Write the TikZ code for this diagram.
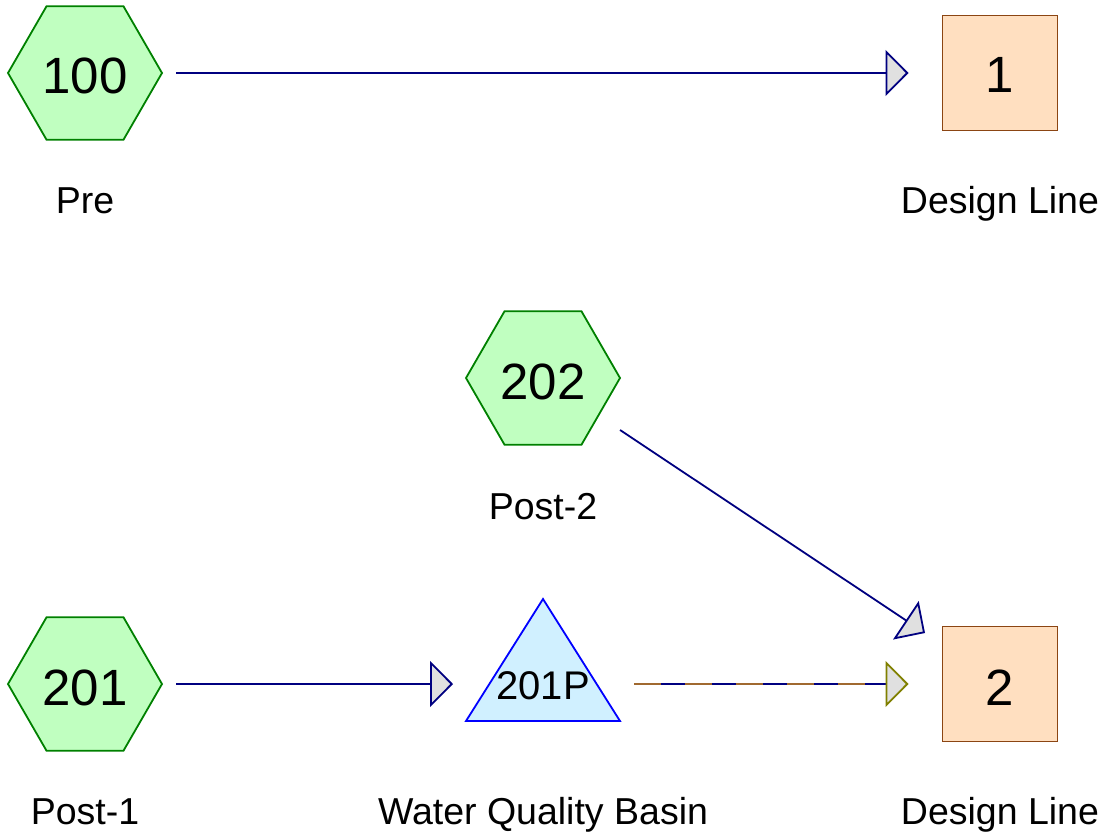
\documentclass[tikz,border=0pt]{standalone}
\usepackage{fontspec}
\setmainfont{Liberation Sans}
\usetikzlibrary{shapes.geometric,arrows.meta,calc}
\definecolor{hexfill}{RGB}{192,255,192}
\definecolor{hexline}{RGB}{0,128,0}
\definecolor{boxfill}{RGB}{255,223,192}
\definecolor{boxline}{RGB}{139,69,19}
\definecolor{pondfill}{RGB}{208,240,255}
\definecolor{pondline}{RGB}{0,0,255}
\definecolor{reach}{RGB}{0,0,128}
\definecolor{routed}{RGB}{160,105,48}
\definecolor{tipolive}{RGB}{128,128,0}
\definecolor{tipfill}{RGB}{224,224,224}
\tikzset{
  subcat/.style={regular polygon, regular polygon sides=6, minimum size=154pt,
    inner sep=0pt, outer sep=0pt, fill=hexfill, draw=hexline, line width=1.8pt},
  design/.style={rectangle, minimum size=115pt, inner sep=0pt, outer sep=0pt,
    fill=boxfill, draw=boxline, line width=1.8pt},
  bignum/.style={anchor=base, inner sep=0pt, font=\fontsize{51}{56}\selectfont},
  caption/.style={anchor=base, inner sep=0pt, font=\fontsize{37.5}{42}\selectfont},
  flow/.style={draw=reach, line width=1.8pt,
    -{Triangle[length=23pt,width=46pt,fill=tipfill,line width=1.8pt]}},
  pondflow/.style={draw=reach, line width=1.8pt,
    -{Triangle[length=23pt,width=46pt,fill=tipfill,color=tipolive,line width=1.8pt]}},
}
\begin{document}
\begin{tikzpicture}[x=1pt,y=-1pt]
\useasboundingbox (0,0) rectangle (1111,837);

% top system: pre-development
\node[subcat] (h100) at (85,73) {};
\node[bignum] (t100) at (85,94) {100};
\node[caption] (lpre) at (85,214) {Pre};
\node[design] (d1) at (1000,73) {};
\node[bignum] (t1) at (1000,93) {1};
\node[caption] (ld1) at (1000,214) {Design Line};
\draw[flow, shorten <=14pt, shorten >=34pt] (h100.east) -- (d1.west);

% bottom system: post-development
\node[subcat] (h202) at (543,378) {};
\node[bignum] (t202) at (543,399) {202};
\node[caption] (lp2) at (543,519) {Post-2};

\node[subcat] (h201) at (85,684) {};
\node[bignum] (t201) at (85,705) {201};
\node[caption] (lp1) at (85,824) {Post-1};

% pond
\coordinate (pond) at (543,684);
\draw[fill=pondfill, draw=pondline, line width=1.8pt, line join=miter]
  (543,599) -- (620,721) -- (466,721) -- cycle;
\node[anchor=base, inner sep=0pt, font=\fontsize{40}{44}\selectfont] (t201p) at (543,699) {201P};
\node[caption] (lwqb) at (543,824) {Water Quality Basin};

\node[design] (d2) at (1000,684) {};
\node[bignum] (t2) at (1000,705) {2};
\node[caption] (ld2) at (1000,824) {Design Line};

% links
\draw[flow, shorten <=14pt, shorten >=90pt] (h201.east) -- (pond);
\draw[flow] ($(h202.center)+(77,52)$) -- ($(d2.center)+(-75,-51)$);
\draw[pondflow, shorten <=91pt, shorten >=34pt] (pond) -- (d2.west);
\draw[routed, line width=1.8pt, dash pattern=on 27pt off 24pt,
  shorten <=91pt, shorten >=57pt] (pond) -- (d2.west);
\end{tikzpicture}
\end{document}
